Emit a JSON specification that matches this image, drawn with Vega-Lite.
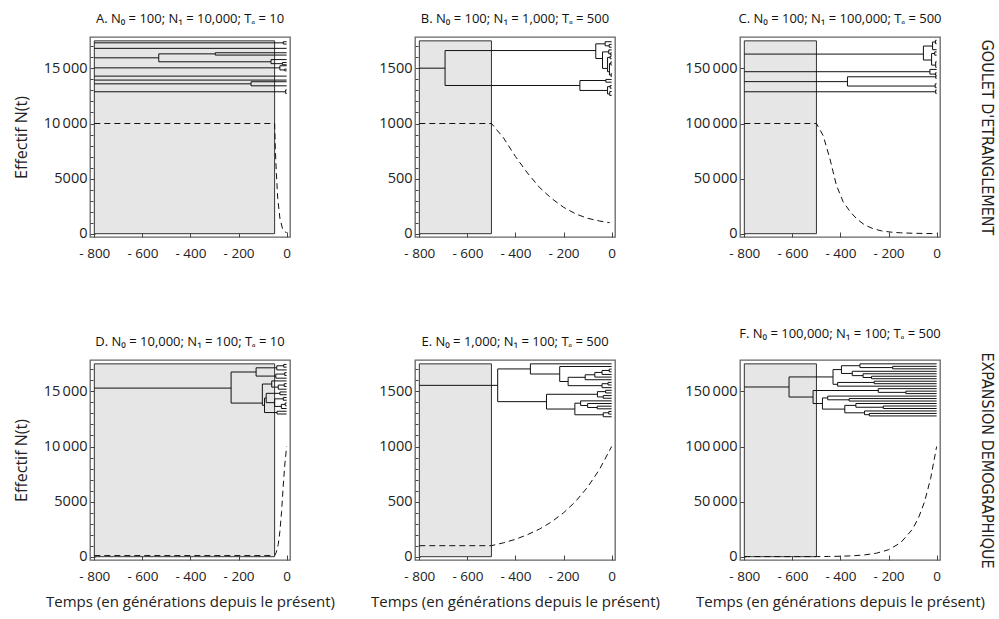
{
  "$schema": "https://vega.github.io/schema/vega-lite/v6.json",
  "background": "white",
  "padding": {"left": 12, "top": 12, "right": 4, "bottom": 4},
  "config": {
    "font": "Open Sans",
    "view": {"stroke": "#666", "strokeWidth": 1.3},
    "axis": {"domain": false, "grid": false, "tickColor": "#444", "tickWidth": 1, "labelFont": "Open Sans", "labelFontSize": 14.5, "labelColor": "#222", "labelFlush": false, "labelOverlap": false, "labelBound": false, "titleFont": "Open Sans", "titleFontSize": 15, "titleFontWeight": "normal", "titleColor": "#222"},
    "axisX": {"labelFontSize": 13.5},
    "title": {"font": "Open Sans", "fontSize": 13, "fontWeight": "normal", "color": "#111", "offset": 11, "anchor": "middle"}
  },
  "datasets": {
    "cadres": [
      {"p": "A", "x": -800, "x2": -50, "y": 0, "y2": 17500},
      {"p": "B", "x": -800, "x2": -500, "y": 0, "y2": 1750},
      {"p": "C", "x": -800, "x2": -500, "y": 0, "y2": 175000},
      {"p": "D", "x": -800, "x2": -50, "y": 0, "y2": 17500},
      {"p": "E", "x": -800, "x2": -500, "y": 0, "y2": 1750},
      {"p": "F", "x": -800, "x2": -500, "y": 0, "y2": 175000}
    ],
    "effectifs": [
      {"p": "A", "x": -800, "y": 10000}, {"p": "A", "x": -50, "y": 10000}, {"p": "A", "x": -47, "y": 7700}, {"p": "A", "x": -43, "y": 5600}, {"p": "A", "x": -37, "y": 3200}, {"p": "A", "x": -28, "y": 1400}, {"p": "A", "x": -17, "y": 450}, {"p": "A", "x": -8, "y": 180}, {"p": "A", "x": 0, "y": 100},
      {"p": "B", "x": -800, "y": 1000}, {"p": "B", "x": -500, "y": 1000}, {"p": "B", "x": -450, "y": 870}, {"p": "B", "x": -400, "y": 700}, {"p": "B", "x": -350, "y": 550}, {"p": "B", "x": -300, "y": 420}, {"p": "B", "x": -250, "y": 320}, {"p": "B", "x": -200, "y": 240}, {"p": "B", "x": -150, "y": 180}, {"p": "B", "x": -100, "y": 140}, {"p": "B", "x": -50, "y": 115}, {"p": "B", "x": -8, "y": 100},
      {"p": "C", "x": -800, "y": 100000}, {"p": "C", "x": -500, "y": 100000}, {"p": "C", "x": -472, "y": 89000}, {"p": "C", "x": -444, "y": 68000}, {"p": "C", "x": -417, "y": 44000}, {"p": "C", "x": -389, "y": 29000}, {"p": "C", "x": -360, "y": 20000}, {"p": "C", "x": -333, "y": 13600}, {"p": "C", "x": -300, "y": 8000}, {"p": "C", "x": -264, "y": 4500}, {"p": "C", "x": -230, "y": 2600}, {"p": "C", "x": -194, "y": 1500}, {"p": "C", "x": -150, "y": 800}, {"p": "C", "x": -100, "y": 400}, {"p": "C", "x": -50, "y": 200}, {"p": "C", "x": 0, "y": 100},
      {"p": "D", "x": -800, "y": 100}, {"p": "D", "x": -50, "y": 100}, {"p": "D", "x": -43, "y": 400}, {"p": "D", "x": -35, "y": 1100}, {"p": "D", "x": -28, "y": 2300}, {"p": "D", "x": -21, "y": 4100}, {"p": "D", "x": -14, "y": 6500}, {"p": "D", "x": -7, "y": 8500}, {"p": "D", "x": 0, "y": 10000},
      {"p": "E", "x": -800, "y": 100}, {"p": "E", "x": -500, "y": 100}, {"p": "E", "x": -450, "y": 126}, {"p": "E", "x": -400, "y": 158}, {"p": "E", "x": -350, "y": 200}, {"p": "E", "x": -300, "y": 251}, {"p": "E", "x": -250, "y": 316}, {"p": "E", "x": -200, "y": 398}, {"p": "E", "x": -150, "y": 501}, {"p": "E", "x": -100, "y": 631}, {"p": "E", "x": -50, "y": 794}, {"p": "E", "x": 0, "y": 1000},
      {"p": "F", "x": -800, "y": 100}, {"p": "F", "x": -500, "y": 100}, {"p": "F", "x": -450, "y": 200}, {"p": "F", "x": -400, "y": 400}, {"p": "F", "x": -350, "y": 800}, {"p": "F", "x": -300, "y": 1600}, {"p": "F", "x": -250, "y": 3200}, {"p": "F", "x": -200, "y": 6300}, {"p": "F", "x": -150, "y": 12600}, {"p": "F", "x": -100, "y": 25000}, {"p": "F", "x": -75, "y": 35500}, {"p": "F", "x": -50, "y": 50000}, {"p": "F", "x": -25, "y": 71000}, {"p": "F", "x": 0, "y": 100000}
    ],
    "arbres": [
      {"p":"A","x":-800,"x2":-14,"y":17320,"y2":17320},
      {"p":"A","x":-14,"x2":-14,"y":17420,"y2":17210},
      {"p":"A","x":-14,"x2":0,"y":17420,"y2":17420},
      {"p":"A","x":-14,"x2":0,"y":17210,"y2":17210},
      {"p":"A","x":-800,"x2":0,"y":16820,"y2":16820},
      {"p":"A","x":-800,"x2":-532,"y":15960,"y2":15960},
      {"p":"A","x":-532,"x2":-532,"y":16320,"y2":15600},
      {"p":"A","x":-532,"x2":-297,"y":16320,"y2":16320},
      {"p":"A","x":-297,"x2":-297,"y":16420,"y2":16210},
      {"p":"A","x":-297,"x2":0,"y":16420,"y2":16420},
      {"p":"A","x":-297,"x2":0,"y":16210,"y2":16210},
      {"p":"A","x":-532,"x2":-65,"y":15600,"y2":15600},
      {"p":"A","x":-65,"x2":-65,"y":15800,"y2":15430},
      {"p":"A","x":-65,"x2":0,"y":15800,"y2":15800},
      {"p":"A","x":-65,"x2":-18,"y":15430,"y2":15430},
      {"p":"A","x":-18,"x2":-18,"y":15530,"y2":15330},
      {"p":"A","x":-18,"x2":0,"y":15530,"y2":15530},
      {"p":"A","x":-18,"x2":0,"y":15330,"y2":15330},
      {"p":"A","x":-800,"x2":-28,"y":15050,"y2":15050},
      {"p":"A","x":-28,"x2":-28,"y":15240,"y2":14860},
      {"p":"A","x":-28,"x2":0,"y":15240,"y2":15240},
      {"p":"A","x":-28,"x2":-8,"y":14860,"y2":14860},
      {"p":"A","x":-8,"x2":-8,"y":14940,"y2":14780},
      {"p":"A","x":-8,"x2":0,"y":14940,"y2":14940},
      {"p":"A","x":-8,"x2":0,"y":14780,"y2":14780},
      {"p":"A","x":-800,"x2":0,"y":14300,"y2":14300},
      {"p":"A","x":-800,"x2":0,"y":13940,"y2":13940},
      {"p":"A","x":-800,"x2":-148,"y":13600,"y2":13600},
      {"p":"A","x":-148,"x2":-148,"y":13790,"y2":13420},
      {"p":"A","x":-148,"x2":0,"y":13790,"y2":13790},
      {"p":"A","x":-148,"x2":0,"y":13420,"y2":13420},
      {"p":"A","x":-800,"x2":-4,"y":12880,"y2":12880},
      {"p":"A","x":-4,"x2":-4,"y":13060,"y2":12720},
      {"p":"A","x":-4,"x2":0,"y":13060,"y2":13060},
      {"p":"A","x":-4,"x2":0,"y":12720,"y2":12720},

      {"p":"B","x":-800,"x2":-693,"y":1502,"y2":1502},
      {"p":"B","x":-693,"x2":-693,"y":1662,"y2":1345},
      {"p":"B","x":-693,"x2":-66,"y":1662,"y2":1662},
      {"p":"B","x":-66,"x2":-66,"y":1723,"y2":1590},
      {"p":"B","x":-66,"x2":-27,"y":1723,"y2":1723},
      {"p":"B","x":-27,"x2":-27,"y":1742,"y2":1705},
      {"p":"B","x":-27,"x2":0,"y":1742,"y2":1742},
      {"p":"B","x":-27,"x2":-10,"y":1705,"y2":1705},
      {"p":"B","x":-10,"x2":-10,"y":1718,"y2":1692},
      {"p":"B","x":-10,"x2":0,"y":1718,"y2":1718},
      {"p":"B","x":-10,"x2":0,"y":1692,"y2":1692},
      {"p":"B","x":-66,"x2":-38,"y":1590,"y2":1590},
      {"p":"B","x":-38,"x2":-38,"y":1650,"y2":1500},
      {"p":"B","x":-38,"x2":-12,"y":1650,"y2":1650},
      {"p":"B","x":-12,"x2":-12,"y":1668,"y2":1632},
      {"p":"B","x":-12,"x2":0,"y":1668,"y2":1668},
      {"p":"B","x":-12,"x2":-4,"y":1632,"y2":1632},
      {"p":"B","x":-4,"x2":-4,"y":1642,"y2":1622},
      {"p":"B","x":-4,"x2":0,"y":1642,"y2":1642},
      {"p":"B","x":-4,"x2":0,"y":1622,"y2":1622},
      {"p":"B","x":-38,"x2":-17,"y":1500,"y2":1500},
      {"p":"B","x":-17,"x2":-17,"y":1600,"y2":1470},
      {"p":"B","x":-17,"x2":-6,"y":1600,"y2":1600},
      {"p":"B","x":-6,"x2":-6,"y":1612,"y2":1588},
      {"p":"B","x":-6,"x2":0,"y":1612,"y2":1612},
      {"p":"B","x":-6,"x2":0,"y":1588,"y2":1588},
      {"p":"B","x":-17,"x2":-9,"y":1470,"y2":1470},
      {"p":"B","x":-9,"x2":-9,"y":1545,"y2":1440},
      {"p":"B","x":-9,"x2":-3,"y":1545,"y2":1545},
      {"p":"B","x":-3,"x2":-3,"y":1560,"y2":1530},
      {"p":"B","x":-3,"x2":0,"y":1560,"y2":1560},
      {"p":"B","x":-3,"x2":0,"y":1530,"y2":1530},
      {"p":"B","x":-9,"x2":-2,"y":1440,"y2":1440},
      {"p":"B","x":-2,"x2":-2,"y":1455,"y2":1425},
      {"p":"B","x":-2,"x2":0,"y":1455,"y2":1455},
      {"p":"B","x":-2,"x2":0,"y":1425,"y2":1425},
      {"p":"B","x":-693,"x2":-132,"y":1345,"y2":1345},
      {"p":"B","x":-132,"x2":-132,"y":1390,"y2":1300},
      {"p":"B","x":-132,"x2":-24,"y":1390,"y2":1390},
      {"p":"B","x":-24,"x2":-24,"y":1400,"y2":1375},
      {"p":"B","x":-24,"x2":0,"y":1400,"y2":1400},
      {"p":"B","x":-24,"x2":0,"y":1375,"y2":1375},
      {"p":"B","x":-132,"x2":-17,"y":1300,"y2":1300},
      {"p":"B","x":-17,"x2":-17,"y":1335,"y2":1268},
      {"p":"B","x":-17,"x2":-6,"y":1335,"y2":1335},
      {"p":"B","x":-6,"x2":-6,"y":1345,"y2":1320},
      {"p":"B","x":-6,"x2":0,"y":1345,"y2":1345},
      {"p":"B","x":-6,"x2":0,"y":1320,"y2":1320},
      {"p":"B","x":-17,"x2":-8,"y":1268,"y2":1268},
      {"p":"B","x":-8,"x2":-8,"y":1290,"y2":1255},
      {"p":"B","x":-8,"x2":0,"y":1290,"y2":1290},
      {"p":"B","x":-8,"x2":0,"y":1255,"y2":1255},

      {"p":"C","x":-800,"x2":-55,"y":163000,"y2":163000},
      {"p":"C","x":-55,"x2":-55,"y":170300,"y2":157600},
      {"p":"C","x":-55,"x2":-17,"y":170300,"y2":170300},
      {"p":"C","x":-17,"x2":-17,"y":174000,"y2":167000},
      {"p":"C","x":-17,"x2":-5,"y":174000,"y2":174000},
      {"p":"C","x":-5,"x2":-5,"y":175500,"y2":172500},
      {"p":"C","x":-5,"x2":0,"y":175500,"y2":175500},
      {"p":"C","x":-5,"x2":0,"y":172500,"y2":172500},
      {"p":"C","x":-17,"x2":0,"y":167000,"y2":167000},
      {"p":"C","x":-55,"x2":-21,"y":157600,"y2":157600},
      {"p":"C","x":-21,"x2":-21,"y":163500,"y2":153000},
      {"p":"C","x":-21,"x2":-8,"y":163500,"y2":163500},
      {"p":"C","x":-8,"x2":-8,"y":165000,"y2":162000},
      {"p":"C","x":-8,"x2":0,"y":165000,"y2":165000},
      {"p":"C","x":-8,"x2":0,"y":162000,"y2":162000},
      {"p":"C","x":-21,"x2":-4,"y":153000,"y2":153000},
      {"p":"C","x":-4,"x2":-4,"y":156000,"y2":151000},
      {"p":"C","x":-4,"x2":0,"y":156000,"y2":156000},
      {"p":"C","x":-4,"x2":0,"y":151000,"y2":151000},
      {"p":"C","x":-800,"x2":-28,"y":147000,"y2":147000},
      {"p":"C","x":-28,"x2":-28,"y":149100,"y2":144850},
      {"p":"C","x":-28,"x2":0,"y":149100,"y2":149100},
      {"p":"C","x":-28,"x2":-5,"y":144850,"y2":144850},
      {"p":"C","x":-5,"x2":-5,"y":146000,"y2":143800},
      {"p":"C","x":-5,"x2":0,"y":146000,"y2":146000},
      {"p":"C","x":-5,"x2":0,"y":143800,"y2":143800},
      {"p":"C","x":-800,"x2":-371,"y":138000,"y2":138000},
      {"p":"C","x":-371,"x2":-371,"y":142400,"y2":134000},
      {"p":"C","x":-371,"x2":-4,"y":142400,"y2":142400},
      {"p":"C","x":-4,"x2":-4,"y":143000,"y2":141000},
      {"p":"C","x":-4,"x2":0,"y":143000,"y2":143000},
      {"p":"C","x":-4,"x2":0,"y":141000,"y2":141000},
      {"p":"C","x":-371,"x2":-6,"y":134000,"y2":134000},
      {"p":"C","x":-6,"x2":-6,"y":136000,"y2":132500},
      {"p":"C","x":-6,"x2":0,"y":136000,"y2":136000},
      {"p":"C","x":-6,"x2":0,"y":132500,"y2":132500},
      {"p":"C","x":-800,"x2":-4,"y":128800,"y2":128800},
      {"p":"C","x":-4,"x2":-4,"y":130500,"y2":127300},
      {"p":"C","x":-4,"x2":0,"y":130500,"y2":130500},
      {"p":"C","x":-4,"x2":0,"y":127300,"y2":127300},

      {"p":"D","x":-800,"x2":-231,"y":15300,"y2":15300},
      {"p":"D","x":-231,"x2":-231,"y":16760,"y2":13940},
      {"p":"D","x":-231,"x2":-127,"y":16760,"y2":16760},
      {"p":"D","x":-127,"x2":-127,"y":17140,"y2":16390},
      {"p":"D","x":-127,"x2":-41,"y":17140,"y2":17140},
      {"p":"D","x":-41,"x2":-41,"y":17325,"y2":16950},
      {"p":"D","x":-41,"x2":-12,"y":17325,"y2":17325},
      {"p":"D","x":-12,"x2":-12,"y":17450,"y2":17200},
      {"p":"D","x":-12,"x2":0,"y":17450,"y2":17450},
      {"p":"D","x":-12,"x2":0,"y":17200,"y2":17200},
      {"p":"D","x":-41,"x2":0,"y":16950,"y2":16950},
      {"p":"D","x":-127,"x2":-45,"y":16390,"y2":16390},
      {"p":"D","x":-45,"x2":-45,"y":16575,"y2":16200},
      {"p":"D","x":-45,"x2":-8,"y":16575,"y2":16575},
      {"p":"D","x":-8,"x2":-8,"y":16700,"y2":16450},
      {"p":"D","x":-8,"x2":0,"y":16700,"y2":16700},
      {"p":"D","x":-8,"x2":0,"y":16450,"y2":16450},
      {"p":"D","x":-45,"x2":0,"y":16200,"y2":16200},
      {"p":"D","x":-231,"x2":-101,"y":13940,"y2":13940},
      {"p":"D","x":-101,"x2":-101,"y":15670,"y2":13740},
      {"p":"D","x":-101,"x2":-62,"y":15670,"y2":15670},
      {"p":"D","x":-62,"x2":-62,"y":15950,"y2":15390},
      {"p":"D","x":-62,"x2":0,"y":15950,"y2":15950},
      {"p":"D","x":-62,"x2":-35,"y":15390,"y2":15390},
      {"p":"D","x":-35,"x2":-35,"y":15575,"y2":15200},
      {"p":"D","x":-35,"x2":-10,"y":15575,"y2":15575},
      {"p":"D","x":-10,"x2":-10,"y":15700,"y2":15450},
      {"p":"D","x":-10,"x2":0,"y":15700,"y2":15700},
      {"p":"D","x":-10,"x2":0,"y":15450,"y2":15450},
      {"p":"D","x":-35,"x2":0,"y":15200,"y2":15200},
      {"p":"D","x":-101,"x2":-92,"y":13740,"y2":13740},
      {"p":"D","x":-92,"x2":-92,"y":14400,"y2":13080},
      {"p":"D","x":-92,"x2":-85,"y":14400,"y2":14400},
      {"p":"D","x":-85,"x2":-85,"y":14825,"y2":13980},
      {"p":"D","x":-85,"x2":-28,"y":14825,"y2":14825},
      {"p":"D","x":-28,"x2":-28,"y":14950,"y2":14700},
      {"p":"D","x":-28,"x2":0,"y":14950,"y2":14950},
      {"p":"D","x":-28,"x2":0,"y":14700,"y2":14700},
      {"p":"D","x":-85,"x2":-50,"y":13980,"y2":13980},
      {"p":"D","x":-50,"x2":-50,"y":14325,"y2":13640},
      {"p":"D","x":-50,"x2":-14,"y":14325,"y2":14325},
      {"p":"D","x":-14,"x2":-14,"y":14450,"y2":14200},
      {"p":"D","x":-14,"x2":0,"y":14450,"y2":14450},
      {"p":"D","x":-14,"x2":0,"y":14200,"y2":14200},
      {"p":"D","x":-50,"x2":-22,"y":13640,"y2":13640},
      {"p":"D","x":-22,"x2":-22,"y":13825,"y2":13450},
      {"p":"D","x":-22,"x2":-6,"y":13825,"y2":13825},
      {"p":"D","x":-6,"x2":-6,"y":13950,"y2":13700},
      {"p":"D","x":-6,"x2":0,"y":13950,"y2":13950},
      {"p":"D","x":-6,"x2":0,"y":13700,"y2":13700},
      {"p":"D","x":-22,"x2":0,"y":13450,"y2":13450},
      {"p":"D","x":-92,"x2":-40,"y":13080,"y2":13080},
      {"p":"D","x":-40,"x2":-40,"y":13200,"y2":12950},
      {"p":"D","x":-40,"x2":0,"y":13200,"y2":13200},
      {"p":"D","x":-40,"x2":0,"y":12950,"y2":12950},

      {"p":"E","x":-800,"x2":-474,"y":1555,"y2":1555},
      {"p":"E","x":-474,"x2":-474,"y":1704,"y2":1407},
      {"p":"E","x":-474,"x2":-338,"y":1704,"y2":1704},
      {"p":"E","x":-338,"x2":-338,"y":1750,"y2":1658},
      {"p":"E","x":-338,"x2":0,"y":1750,"y2":1750},
      {"p":"E","x":-338,"x2":-216,"y":1658,"y2":1658},
      {"p":"E","x":-216,"x2":-216,"y":1726,"y2":1590},
      {"p":"E","x":-216,"x2":0,"y":1726,"y2":1726},
      {"p":"E","x":-216,"x2":-181,"y":1590,"y2":1590},
      {"p":"E","x":-181,"x2":-181,"y":1628,"y2":1552},
      {"p":"E","x":-181,"x2":-110,"y":1628,"y2":1628},
      {"p":"E","x":-110,"x2":-110,"y":1651,"y2":1606},
      {"p":"E","x":-110,"x2":0,"y":1606,"y2":1606},
      {"p":"E","x":-110,"x2":-70,"y":1651,"y2":1651},
      {"p":"E","x":-70,"x2":-70,"y":1672,"y2":1630},
      {"p":"E","x":-70,"x2":0,"y":1630,"y2":1630},
      {"p":"E","x":-70,"x2":-40,"y":1672,"y2":1672},
      {"p":"E","x":-40,"x2":-40,"y":1690,"y2":1654},
      {"p":"E","x":-40,"x2":0,"y":1654,"y2":1654},
      {"p":"E","x":-40,"x2":-10,"y":1690,"y2":1690},
      {"p":"E","x":-10,"x2":-10,"y":1702,"y2":1678},
      {"p":"E","x":-10,"x2":0,"y":1702,"y2":1702},
      {"p":"E","x":-10,"x2":0,"y":1678,"y2":1678},
      {"p":"E","x":-181,"x2":-40,"y":1552,"y2":1552},
      {"p":"E","x":-40,"x2":-40,"y":1570,"y2":1534},
      {"p":"E","x":-40,"x2":0,"y":1534,"y2":1534},
      {"p":"E","x":-40,"x2":-15,"y":1570,"y2":1570},
      {"p":"E","x":-15,"x2":-15,"y":1582,"y2":1558},
      {"p":"E","x":-15,"x2":0,"y":1582,"y2":1582},
      {"p":"E","x":-15,"x2":0,"y":1558,"y2":1558},
      {"p":"E","x":-474,"x2":-271,"y":1407,"y2":1407},
      {"p":"E","x":-271,"x2":-271,"y":1474,"y2":1340},
      {"p":"E","x":-271,"x2":-59,"y":1474,"y2":1474},
      {"p":"E","x":-59,"x2":-59,"y":1498,"y2":1450},
      {"p":"E","x":-59,"x2":-25,"y":1498,"y2":1498},
      {"p":"E","x":-25,"x2":-25,"y":1510,"y2":1486},
      {"p":"E","x":-25,"x2":0,"y":1510,"y2":1510},
      {"p":"E","x":-25,"x2":0,"y":1486,"y2":1486},
      {"p":"E","x":-59,"x2":-35,"y":1450,"y2":1450},
      {"p":"E","x":-35,"x2":-35,"y":1462,"y2":1438},
      {"p":"E","x":-35,"x2":0,"y":1462,"y2":1462},
      {"p":"E","x":-35,"x2":0,"y":1438,"y2":1438},
      {"p":"E","x":-271,"x2":-153,"y":1340,"y2":1340},
      {"p":"E","x":-153,"x2":-153,"y":1393,"y2":1288},
      {"p":"E","x":-153,"x2":-129,"y":1393,"y2":1393},
      {"p":"E","x":-129,"x2":-129,"y":1414,"y2":1372},
      {"p":"E","x":-129,"x2":0,"y":1414,"y2":1414},
      {"p":"E","x":-129,"x2":-100,"y":1372,"y2":1372},
      {"p":"E","x":-100,"x2":-100,"y":1390,"y2":1354},
      {"p":"E","x":-100,"x2":0,"y":1390,"y2":1390},
      {"p":"E","x":-100,"x2":-60,"y":1354,"y2":1354},
      {"p":"E","x":-60,"x2":-60,"y":1366,"y2":1342},
      {"p":"E","x":-60,"x2":0,"y":1366,"y2":1366},
      {"p":"E","x":-60,"x2":0,"y":1342,"y2":1342},
      {"p":"E","x":-153,"x2":-35,"y":1288,"y2":1288},
      {"p":"E","x":-35,"x2":-35,"y":1306,"y2":1270},
      {"p":"E","x":-35,"x2":0,"y":1270,"y2":1270},
      {"p":"E","x":-35,"x2":-12,"y":1306,"y2":1306},
      {"p":"E","x":-12,"x2":-12,"y":1318,"y2":1294},
      {"p":"E","x":-12,"x2":0,"y":1318,"y2":1318},
      {"p":"E","x":-12,"x2":0,"y":1294,"y2":1294},

      {"p":"F","x":-800,"x2":-614,"y":154000,"y2":154000},
      {"p":"F","x":-614,"x2":-614,"y":163117,"y2":144906},
      {"p":"F","x":-614,"x2":-431,"y":163117,"y2":163117},
      {"p":"F","x":-431,"x2":-431,"y":169797,"y2":156437},
      {"p":"F","x":-431,"x2":-396,"y":169797,"y2":169797},
      {"p":"F","x":-396,"x2":-396,"y":173312,"y2":166281},
      {"p":"F","x":-396,"x2":-319,"y":173312,"y2":173312},
      {"p":"F","x":-319,"x2":-319,"y":175000,"y2":171625},
      {"p":"F","x":-319,"x2":0,"y":175000,"y2":175000},
      {"p":"F","x":-319,"x2":-183,"y":171625,"y2":171625},
      {"p":"F","x":-183,"x2":-183,"y":172750,"y2":170500},
      {"p":"F","x":-183,"x2":0,"y":172750,"y2":172750},
      {"p":"F","x":-183,"x2":0,"y":170500,"y2":170500},
      {"p":"F","x":-396,"x2":-351,"y":166281,"y2":166281},
      {"p":"F","x":-351,"x2":-351,"y":168250,"y2":164312},
      {"p":"F","x":-351,"x2":0,"y":168250,"y2":168250},
      {"p":"F","x":-351,"x2":-306,"y":164312,"y2":164312},
      {"p":"F","x":-306,"x2":-306,"y":166000,"y2":162625},
      {"p":"F","x":-306,"x2":0,"y":166000,"y2":166000},
      {"p":"F","x":-306,"x2":-271,"y":162625,"y2":162625},
      {"p":"F","x":-271,"x2":-271,"y":163750,"y2":161500},
      {"p":"F","x":-271,"x2":0,"y":163750,"y2":163750},
      {"p":"F","x":-271,"x2":0,"y":161500,"y2":161500},
      {"p":"F","x":-431,"x2":-412,"y":156437,"y2":156437},
      {"p":"F","x":-412,"x2":-412,"y":158125,"y2":154750},
      {"p":"F","x":-412,"x2":0,"y":154750,"y2":154750},
      {"p":"F","x":-412,"x2":-260,"y":158125,"y2":158125},
      {"p":"F","x":-260,"x2":-260,"y":159250,"y2":157000},
      {"p":"F","x":-260,"x2":0,"y":159250,"y2":159250},
      {"p":"F","x":-260,"x2":0,"y":157000,"y2":157000},
      {"p":"F","x":-614,"x2":-514,"y":144906,"y2":144906},
      {"p":"F","x":-514,"x2":-514,"y":150812,"y2":139000},
      {"p":"F","x":-514,"x2":-243,"y":150812,"y2":150812},
      {"p":"F","x":-243,"x2":-243,"y":152500,"y2":149125},
      {"p":"F","x":-243,"x2":0,"y":152500,"y2":152500},
      {"p":"F","x":-243,"x2":-128,"y":149125,"y2":149125},
      {"p":"F","x":-128,"x2":-128,"y":150250,"y2":148000},
      {"p":"F","x":-128,"x2":0,"y":150250,"y2":150250},
      {"p":"F","x":-128,"x2":0,"y":148000,"y2":148000},
      {"p":"F","x":-514,"x2":-475,"y":139000,"y2":139000},
      {"p":"F","x":-475,"x2":-475,"y":144062,"y2":133937},
      {"p":"F","x":-475,"x2":-453,"y":144062,"y2":144062},
      {"p":"F","x":-453,"x2":-453,"y":145750,"y2":142375},
      {"p":"F","x":-453,"x2":0,"y":145750,"y2":145750},
      {"p":"F","x":-453,"x2":-364,"y":142375,"y2":142375},
      {"p":"F","x":-364,"x2":-364,"y":143500,"y2":141250},
      {"p":"F","x":-364,"x2":0,"y":143500,"y2":143500},
      {"p":"F","x":-364,"x2":0,"y":141250,"y2":141250},
      {"p":"F","x":-475,"x2":-382,"y":133937,"y2":133937},
      {"p":"F","x":-382,"x2":-382,"y":137312,"y2":130562},
      {"p":"F","x":-382,"x2":-336,"y":137312,"y2":137312},
      {"p":"F","x":-336,"x2":-336,"y":139000,"y2":135625},
      {"p":"F","x":-336,"x2":0,"y":139000,"y2":139000},
      {"p":"F","x":-336,"x2":-222,"y":135625,"y2":135625},
      {"p":"F","x":-222,"x2":-222,"y":136750,"y2":134500},
      {"p":"F","x":-222,"x2":0,"y":136750,"y2":136750},
      {"p":"F","x":-222,"x2":0,"y":134500,"y2":134500},
      {"p":"F","x":-382,"x2":-300,"y":130562,"y2":130562},
      {"p":"F","x":-300,"x2":-300,"y":132250,"y2":128875},
      {"p":"F","x":-300,"x2":0,"y":132250,"y2":132250},
      {"p":"F","x":-300,"x2":-280,"y":128875,"y2":128875},
      {"p":"F","x":-280,"x2":-280,"y":130000,"y2":127750},
      {"p":"F","x":-280,"x2":0,"y":130000,"y2":130000},
      {"p":"F","x":-280,"x2":0,"y":127750,"y2":127750}
    ]
  },
  "vconcat": [
    {
      "hconcat": [
        {
          "width": 200, "height": 200,
          "title": "A. N₀ = 100; N₁ = 10,000; Tₐ = 10",
          "layer": [
            {"layer": [
              {"data": {"name": "cadres"}, "transform": [{"filter": "datum.p == 'A'"}],
               "mark": {"type": "rect", "fill": "#e6e6e6", "stroke": "#333", "strokeWidth": 1},
               "encoding": {
                 "x": {"field": "x", "type": "quantitative", "scale": {"domain": [-818, 14], "nice": false, "zero": false},
                       "axis": {"title": null, "values": [-800,-750,-700,-650,-600,-550,-500,-450,-400,-350,-300,-250,-200,-150,-100,-50,0], "labelExpr": "datum.value % 200 == 0 ? (datum.value < 0 ? '- ' + abs(datum.value) : '0') : ''", "tickSize": {"condition": {"test": "datum.value % 200 == 0", "value": -5}, "value": -3}, "labelPadding": 14}},
                 "x2": {"field": "x2"},
                 "y": {"field": "y", "type": "quantitative", "scale": {"domain": [-300, 17850], "nice": false, "zero": false},
                       "axis": {"title": "Effectif N(t)", "titlePadding": 14, "titleFontSize": 16, "values": [0,5000,10000,15000], "labelExpr": "datum.value >= 10000 ? replace(format(datum.value, ','), ',', '\u2009') : format(datum.value, 'd')", "tickSize": -5, "labelPadding": 8}},
                 "y2": {"field": "y2"}
               }},
              {"data": {"name": "effectifs"}, "transform": [{"filter": "datum.p == 'A'"}],
               "mark": {"type": "line", "color": "#111", "strokeWidth": 1, "strokeDash": [6, 4]},
               "encoding": {"x": {"field": "x", "type": "quantitative"}, "y": {"field": "y", "type": "quantitative"}, "order": {"field": "x"}}},
              {"data": {"name": "arbres"}, "transform": [{"filter": "datum.p == 'A'"}],
               "mark": {"type": "rule", "color": "#111", "strokeWidth": 1},
               "encoding": {"x": {"field": "x", "type": "quantitative"}, "x2": {"field": "x2"}, "y": {"field": "y", "type": "quantitative"}, "y2": {"field": "y2"}}}
            ]},
            {"data": {"name": "cadres"}, "transform": [{"filter": "datum.p == 'A'"}],
             "mark": {"type": "rule", "opacity": 0},
             "encoding": {"y": {"field": "y", "type": "quantitative", "scale": {"domain": [-300, 17850], "nice": false, "zero": false},
               "axis": {"orient": "left", "title": null, "labels": false, "domain": false, "tickSize": -3, "values": [1000,2000,3000,4000,6000,7000,8000,9000,11000,12000,13000,14000,16000,17000]}}}}
          ],
          "resolve": {"scale": {"y": "independent"}}
        },
        {
          "width": 200, "height": 200,
          "title": "B. N₀ = 100; N₁ = 1,000; Tₐ = 500",
          "layer": [
            {"layer": [
              {"data": {"name": "cadres"}, "transform": [{"filter": "datum.p == 'B'"}],
               "mark": {"type": "rect", "fill": "#e6e6e6", "stroke": "#333", "strokeWidth": 1},
               "encoding": {
                 "x": {"field": "x", "type": "quantitative", "scale": {"domain": [-818, 14], "nice": false, "zero": false},
                       "axis": {"title": null, "values": [-800,-750,-700,-650,-600,-550,-500,-450,-400,-350,-300,-250,-200,-150,-100,-50,0], "labelExpr": "datum.value % 200 == 0 ? (datum.value < 0 ? '- ' + abs(datum.value) : '0') : ''", "tickSize": {"condition": {"test": "datum.value % 200 == 0", "value": -5}, "value": -3}, "labelPadding": 14}},
                 "x2": {"field": "x2"},
                 "y": {"field": "y", "type": "quantitative", "scale": {"domain": [-30, 1785], "nice": false, "zero": false},
                       "axis": {"title": null, "values": [0,500,1000,1500], "labelExpr": "format(datum.value, 'd')", "tickSize": -5, "labelPadding": 8}},
                 "y2": {"field": "y2"}
               }},
              {"data": {"name": "effectifs"}, "transform": [{"filter": "datum.p == 'B'"}],
               "mark": {"type": "line", "color": "#111", "strokeWidth": 1, "strokeDash": [6, 4]},
               "encoding": {"x": {"field": "x", "type": "quantitative"}, "y": {"field": "y", "type": "quantitative"}, "order": {"field": "x"}}},
              {"data": {"name": "arbres"}, "transform": [{"filter": "datum.p == 'B'"}],
               "mark": {"type": "rule", "color": "#111", "strokeWidth": 1},
               "encoding": {"x": {"field": "x", "type": "quantitative"}, "x2": {"field": "x2"}, "y": {"field": "y", "type": "quantitative"}, "y2": {"field": "y2"}}}
            ]},
            {"data": {"name": "cadres"}, "transform": [{"filter": "datum.p == 'B'"}],
             "mark": {"type": "rule", "opacity": 0},
             "encoding": {"y": {"field": "y", "type": "quantitative", "scale": {"domain": [-30, 1785], "nice": false, "zero": false},
               "axis": {"orient": "left", "title": null, "labels": false, "domain": false, "tickSize": -3, "values": [100,200,300,400,600,700,800,900,1100,1200,1300,1400,1600,1700]}}}}
          ],
          "resolve": {"scale": {"y": "independent"}}
        },
        {
          "width": 200, "height": 200,
          "title": "C. N₀ = 100; N₁ = 100,000; Tₐ = 500",
          "layer": [
            {"layer": [
              {"data": {"name": "cadres"}, "transform": [{"filter": "datum.p == 'C'"}],
               "mark": {"type": "rect", "fill": "#e6e6e6", "stroke": "#333", "strokeWidth": 1},
               "encoding": {
                 "x": {"field": "x", "type": "quantitative", "scale": {"domain": [-818, 14], "nice": false, "zero": false},
                       "axis": {"title": null, "values": [-800,-750,-700,-650,-600,-550,-500,-450,-400,-350,-300,-250,-200,-150,-100,-50,0], "labelExpr": "datum.value % 200 == 0 ? (datum.value < 0 ? '- ' + abs(datum.value) : '0') : ''", "tickSize": {"condition": {"test": "datum.value % 200 == 0", "value": -5}, "value": -3}, "labelPadding": 14}},
                 "x2": {"field": "x2"},
                 "y": {"field": "y", "type": "quantitative", "scale": {"domain": [-3000, 178500], "nice": false, "zero": false},
                       "axis": {"title": null, "values": [0,50000,100000,150000], "labelExpr": "datum.value >= 10000 ? replace(format(datum.value, ','), ',', '\u2009') : format(datum.value, 'd')", "tickSize": -5, "labelPadding": 8}},
                 "y2": {"field": "y2"}
               }},
              {"data": {"name": "effectifs"}, "transform": [{"filter": "datum.p == 'C'"}],
               "mark": {"type": "line", "color": "#111", "strokeWidth": 1, "strokeDash": [6, 4]},
               "encoding": {"x": {"field": "x", "type": "quantitative"}, "y": {"field": "y", "type": "quantitative"}, "order": {"field": "x"}}},
              {"data": {"name": "arbres"}, "transform": [{"filter": "datum.p == 'C'"}],
               "mark": {"type": "rule", "color": "#111", "strokeWidth": 1},
               "encoding": {"x": {"field": "x", "type": "quantitative"}, "x2": {"field": "x2"}, "y": {"field": "y", "type": "quantitative"}, "y2": {"field": "y2"}}}
            ]},
            {"data": {"name": "cadres"}, "transform": [{"filter": "datum.p == 'C'"}],
             "mark": {"type": "rule", "opacity": 0},
             "encoding": {"y": {"field": "y", "type": "quantitative", "scale": {"domain": [0, 1], "nice": false},
               "axis": {"orient": "right", "title": "GOULET D'ETRANGLEMENT", "labels": false, "ticks": false, "domain": false, "titleAngle": 90, "titlePadding": 38, "titleFontSize": 16, "titleFont": "Liberation Sans Narrow, DejaVu Sans Condensed, Open Sans"}}}}
          ],
          "resolve": {"scale": {"y": "independent"}}
        }
      ],
      "spacing": 125,
      "bounds": "flush"
    },
    {
      "hconcat": [
        {
          "width": 200, "height": 200,
          "title": "D. N₀ = 10,000; N₁ = 100; Tₐ = 10",
          "layer": [
            {"layer": [
              {"data": {"name": "cadres"}, "transform": [{"filter": "datum.p == 'D'"}],
               "mark": {"type": "rect", "fill": "#e6e6e6", "stroke": "#333", "strokeWidth": 1},
               "encoding": {
                 "x": {"field": "x", "type": "quantitative", "scale": {"domain": [-818, 14], "nice": false, "zero": false},
                       "axis": {"title": "Temps (en générations depuis le présent)", "titlePadding": 12, "values": [-800,-750,-700,-650,-600,-550,-500,-450,-400,-350,-300,-250,-200,-150,-100,-50,0], "labelExpr": "datum.value % 200 == 0 ? (datum.value < 0 ? '- ' + abs(datum.value) : '0') : ''", "tickSize": {"condition": {"test": "datum.value % 200 == 0", "value": -5}, "value": -3}, "labelPadding": 14}},
                 "x2": {"field": "x2"},
                 "y": {"field": "y", "type": "quantitative", "scale": {"domain": [-300, 17850], "nice": false, "zero": false},
                       "axis": {"title": "Effectif N(t)", "titlePadding": 14, "titleFontSize": 16, "values": [0,5000,10000,15000], "labelExpr": "datum.value >= 10000 ? replace(format(datum.value, ','), ',', '\u2009') : format(datum.value, 'd')", "tickSize": -5, "labelPadding": 8}},
                 "y2": {"field": "y2"}
               }},
              {"data": {"name": "effectifs"}, "transform": [{"filter": "datum.p == 'D'"}],
               "mark": {"type": "line", "color": "#111", "strokeWidth": 1, "strokeDash": [6, 4]},
               "encoding": {"x": {"field": "x", "type": "quantitative"}, "y": {"field": "y", "type": "quantitative"}, "order": {"field": "x"}}},
              {"data": {"name": "arbres"}, "transform": [{"filter": "datum.p == 'D'"}],
               "mark": {"type": "rule", "color": "#111", "strokeWidth": 1},
               "encoding": {"x": {"field": "x", "type": "quantitative"}, "x2": {"field": "x2"}, "y": {"field": "y", "type": "quantitative"}, "y2": {"field": "y2"}}}
            ]},
            {"data": {"name": "cadres"}, "transform": [{"filter": "datum.p == 'D'"}],
             "mark": {"type": "rule", "opacity": 0},
             "encoding": {"y": {"field": "y", "type": "quantitative", "scale": {"domain": [-300, 17850], "nice": false, "zero": false},
               "axis": {"orient": "left", "title": null, "labels": false, "domain": false, "tickSize": -3, "values": [1000,2000,3000,4000,6000,7000,8000,9000,11000,12000,13000,14000,16000,17000]}}}}
          ],
          "resolve": {"scale": {"y": "independent"}}
        },
        {
          "width": 200, "height": 200,
          "title": "E. N₀ = 1,000; N₁ = 100; Tₐ = 500",
          "layer": [
            {"layer": [
              {"data": {"name": "cadres"}, "transform": [{"filter": "datum.p == 'E'"}],
               "mark": {"type": "rect", "fill": "#e6e6e6", "stroke": "#333", "strokeWidth": 1},
               "encoding": {
                 "x": {"field": "x", "type": "quantitative", "scale": {"domain": [-818, 14], "nice": false, "zero": false},
                       "axis": {"title": "Temps (en générations depuis le présent)", "titlePadding": 12, "values": [-800,-750,-700,-650,-600,-550,-500,-450,-400,-350,-300,-250,-200,-150,-100,-50,0], "labelExpr": "datum.value % 200 == 0 ? (datum.value < 0 ? '- ' + abs(datum.value) : '0') : ''", "tickSize": {"condition": {"test": "datum.value % 200 == 0", "value": -5}, "value": -3}, "labelPadding": 14}},
                 "x2": {"field": "x2"},
                 "y": {"field": "y", "type": "quantitative", "scale": {"domain": [-30, 1785], "nice": false, "zero": false},
                       "axis": {"title": null, "values": [0,500,1000,1500], "labelExpr": "format(datum.value, 'd')", "tickSize": -5, "labelPadding": 8}},
                 "y2": {"field": "y2"}
               }},
              {"data": {"name": "effectifs"}, "transform": [{"filter": "datum.p == 'E'"}],
               "mark": {"type": "line", "color": "#111", "strokeWidth": 1, "strokeDash": [6, 4]},
               "encoding": {"x": {"field": "x", "type": "quantitative"}, "y": {"field": "y", "type": "quantitative"}, "order": {"field": "x"}}},
              {"data": {"name": "arbres"}, "transform": [{"filter": "datum.p == 'E'"}],
               "mark": {"type": "rule", "color": "#111", "strokeWidth": 1},
               "encoding": {"x": {"field": "x", "type": "quantitative"}, "x2": {"field": "x2"}, "y": {"field": "y", "type": "quantitative"}, "y2": {"field": "y2"}}}
            ]},
            {"data": {"name": "cadres"}, "transform": [{"filter": "datum.p == 'E'"}],
             "mark": {"type": "rule", "opacity": 0},
             "encoding": {"y": {"field": "y", "type": "quantitative", "scale": {"domain": [-30, 1785], "nice": false, "zero": false},
               "axis": {"orient": "left", "title": null, "labels": false, "domain": false, "tickSize": -3, "values": [100,200,300,400,600,700,800,900,1100,1200,1300,1400,1600,1700]}}}}
          ],
          "resolve": {"scale": {"y": "independent"}}
        },
        {
          "width": 200, "height": 200,
          "title": "F. N₀ = 100,000; N₁ = 100; Tₐ = 500",
          "layer": [
            {"layer": [
              {"data": {"name": "cadres"}, "transform": [{"filter": "datum.p == 'F'"}],
               "mark": {"type": "rect", "fill": "#e6e6e6", "stroke": "#333", "strokeWidth": 1},
               "encoding": {
                 "x": {"field": "x", "type": "quantitative", "scale": {"domain": [-818, 14], "nice": false, "zero": false},
                       "axis": {"title": "Temps (en générations depuis le présent)", "titlePadding": 12, "values": [-800,-750,-700,-650,-600,-550,-500,-450,-400,-350,-300,-250,-200,-150,-100,-50,0], "labelExpr": "datum.value % 200 == 0 ? (datum.value < 0 ? '- ' + abs(datum.value) : '0') : ''", "tickSize": {"condition": {"test": "datum.value % 200 == 0", "value": -5}, "value": -3}, "labelPadding": 14}},
                 "x2": {"field": "x2"},
                 "y": {"field": "y", "type": "quantitative", "scale": {"domain": [-3000, 178500], "nice": false, "zero": false},
                       "axis": {"title": null, "values": [0,50000,100000,150000], "labelExpr": "datum.value >= 10000 ? replace(format(datum.value, ','), ',', '\u2009') : format(datum.value, 'd')", "tickSize": -5, "labelPadding": 8}},
                 "y2": {"field": "y2"}
               }},
              {"data": {"name": "effectifs"}, "transform": [{"filter": "datum.p == 'F'"}],
               "mark": {"type": "line", "color": "#111", "strokeWidth": 1, "strokeDash": [6, 4]},
               "encoding": {"x": {"field": "x", "type": "quantitative"}, "y": {"field": "y", "type": "quantitative"}, "order": {"field": "x"}}},
              {"data": {"name": "arbres"}, "transform": [{"filter": "datum.p == 'F'"}],
               "mark": {"type": "rule", "color": "#111", "strokeWidth": 1},
               "encoding": {"x": {"field": "x", "type": "quantitative"}, "x2": {"field": "x2"}, "y": {"field": "y", "type": "quantitative"}, "y2": {"field": "y2"}}}
            ]},
            {"data": {"name": "cadres"}, "transform": [{"filter": "datum.p == 'F'"}],
             "mark": {"type": "rule", "opacity": 0},
             "encoding": {"y": {"field": "y", "type": "quantitative", "scale": {"domain": [0, 1], "nice": false},
               "axis": {"orient": "right", "title": "EXPANSION DEMOGRAPHIQUE", "labels": false, "ticks": false, "domain": false, "titleAngle": 90, "titlePadding": 38, "titleFontSize": 16, "titleFont": "Liberation Sans Narrow, DejaVu Sans Condensed, Open Sans"}}}}
          ],
          "resolve": {"scale": {"y": "independent"}}
        }
      ],
      "spacing": 125,
      "bounds": "flush"
    }
  ],
  "spacing": 66
}
